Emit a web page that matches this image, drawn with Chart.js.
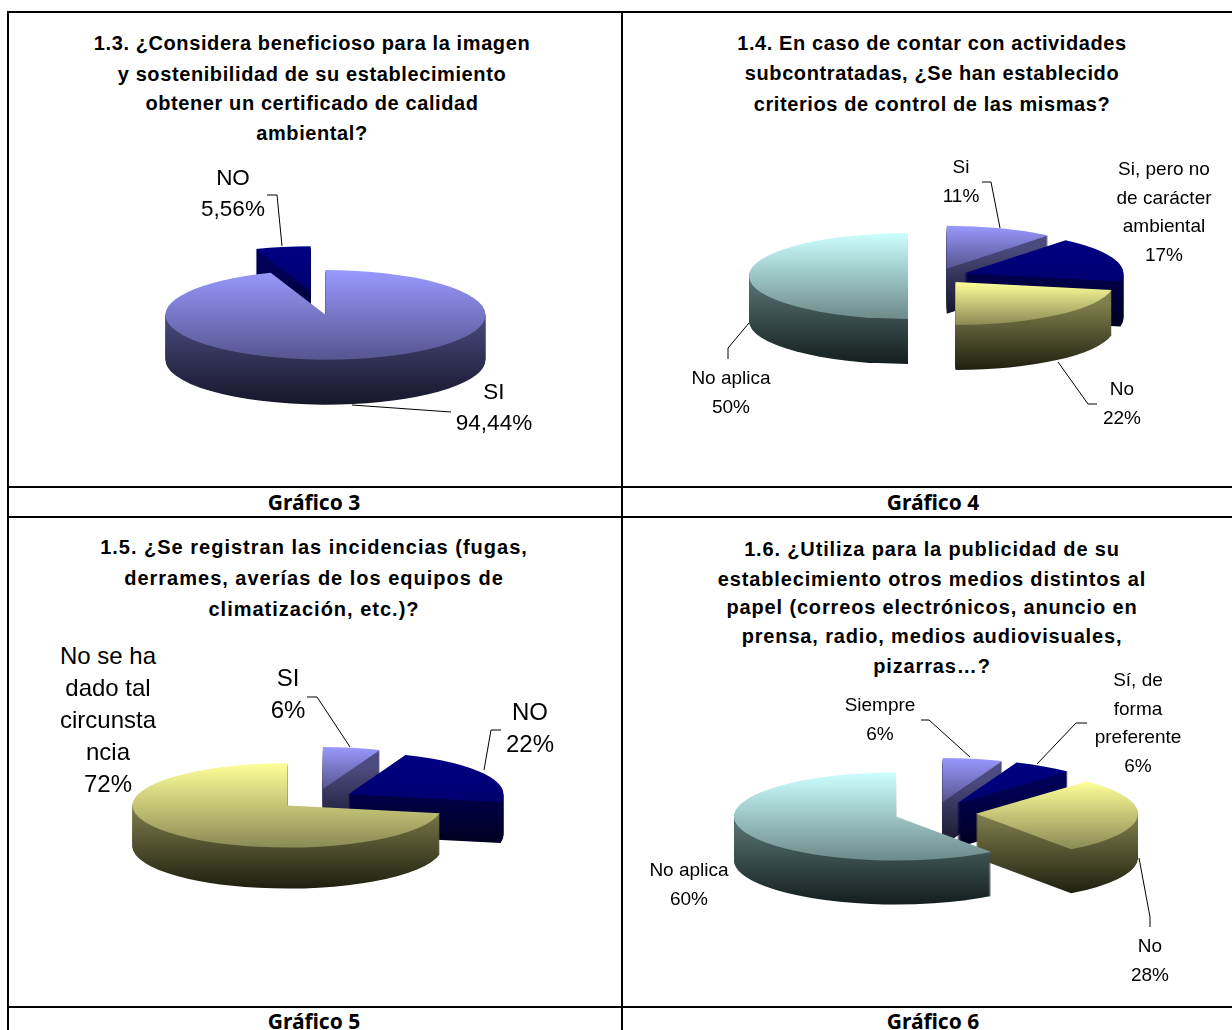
<!DOCTYPE html>
<html lang="es">
<head>
<meta charset="utf-8">
<title>Gráficos 3 a 6</title>
<script src="https://cdn.jsdelivr.net/npm/chart.js@4"></script>
<style>
    html, body { margin: 0; padding: 0; background: #fff; width: 1232px; height: 1030px; overflow: hidden; }
    #page { position: relative; width: 1232px; height: 1030px; font-family: "Liberation Sans", Arial, sans-serif; color: #000; }
    .rule { position: absolute; background: #000; }
    .txt { position: absolute; transform: translate(-50%, -50%); white-space: nowrap; line-height: 1; }
    .title { font-weight: bold; font-size: 20px; }
    .caption { font-family: "Noto Sans", sans-serif; font-weight: bold; font-size: 21px; }
    canvas { position: absolute; }
    svg { position: absolute; left: 0; top: 0; }
</style>
</head>
<body>
<div id="page"></div>
<script>
// values
const values3 = [94.44, 5.56];
const values4 = [11, 17, 22, 50];
const values5 = [6, 22, 72];
const values6 = [6, 6, 28, 60];

const pct3 = ['94,44%', '5,56%'];
const pct4 = ['11%', '17%', '22%', '50%'];
const pct5 = ['6%', '22%', '72%'];
const pct6 = ['6%', '6%', '28%', '60%'];

const names3 = [['SI'], ['NO']];
const names4 = [['Si'], ['Si, pero no', 'de carácter', 'ambiental'], ['No'], ['No aplica']];
const names5 = [['SI'], ['NO'], ['No se ha', 'dado tal', 'circunsta', 'ncia']];
const names6 = [['Siempre'], ['Sí, de', 'forma', 'preferente'], ['No'], ['No aplica']];

const title3 = ['1.3. ¿Considera beneficioso para la imagen', 'y sostenibilidad de su establecimiento', 'obtener un certificado de calidad', 'ambiental?'];
const title4 = ['1.4. En caso de contar con actividades', 'subcontratadas, ¿Se han establecido', 'criterios de control de las mismas?'];
const title5 = ['1.5. ¿Se registran las incidencias (fugas,', 'derrames, averías de los equipos de', 'climatización, etc.)?'];
const title6 = ['1.6. ¿Utiliza para la publicidad de su', 'establecimiento otros medios distintos al', 'papel (correos electrónicos, anuncio en', 'prensa, radio, medios audiovisuales,', 'pizarras…?'];

// face light, face dark, side light, side dark
const palette = [
    ['#9999ff', '#55558f', '#4b4b80', '#16162a'],
    ['#000084', '#000070', '#000058', '#000020'],
    ['#ffff99', '#8a8a55', '#7f7f4c', '#1f1f10'],
    ['#ccffff', '#6d8a8a', '#5c7878', '#141e1e']
];

const charts = [
    {
        values: values3, pct: pct3, names: names3, title: title3, caption: 'Gráfico 3',
        cx: 318, cy: 303, radius: 160, squash: 0.28, depth: 45, explode: 43, fontSize: 22.5, lineGap: 31,
        titleX: 312, titleY: [43, 74, 103, 133], titleSpacing: 0.6, captionX: 314, captionY: 502,
        labelPos: [[494, 392], [233, 178]],
        leaders: ['451,412 352,405', '267,195 277,195 282,246']
    },
    {
        values: values4, pct: pct4, names: names4, title: title4, caption: 'Gráfico 4',
        cx: 937, cy: 276, radius: 159, squash: 0.27, depth: 45, explode: 29, fontSize: 19, lineGap: 28.5,
        titleX: 932, titleY: [43, 73, 104], titleSpacing: 0.6, captionX: 933, captionY: 502,
        labelPos: [[961, 166], [1164, 168], [1122, 388], [731, 377]],
        leaders: ['982,182 991,182 1000,228', '', '1058,362 1088,404 1097,404', '749,323 728,348 728,359']
    },
    {
        values: values5, pct: pct5, names: names5, title: title5, caption: 'Gráfico 5',
        cx: 316, cy: 799, radius: 155, squash: 0.272, depth: 41, explode: 37, fontSize: 24, lineGap: 32,
        titleX: 314, titleY: [547, 578, 609], titleSpacing: 1, captionX: 314, captionY: 1021,
        labelPos: [[288, 678], [530, 712], [108, 656]],
        leaders: ['307,697 317,697 350,747', '501,730 491,730 484,770', '']
    },
    {
        values: values6, pct: pct6, names: names6, title: title6, caption: 'Gráfico 6',
        cx: 935, cy: 813, radius: 162, squash: 0.272, depth: 44, explode: 41, fontSize: 19, lineGap: 28.7,
        titleX: 932, titleY: [549, 579, 607, 636, 666], titleSpacing: 0.85, captionX: 933, captionY: 1021,
        labelPos: [[880, 704], [1138, 679], [1150, 945], [689, 869]],
        leaders: ['921,720 929,720 970,757', '1087,723 1076,723 1037,764', '1139,858 1150,917 1150,927', '']
    }
];

const page = document.getElementById('page');

function addRule(x, y, w, h) {
    const d = document.createElement('div');
    d.className = 'rule';
    d.style.cssText = `left:${x}px;top:${y}px;width:${w}px;height:${h}px`;
    page.appendChild(d);
}

function addText(text, x, y, cls, size, spacing) {
    const d = document.createElement('div');
    d.className = 'txt ' + cls;
    d.textContent = text;
    d.style.left = x + 'px';
    d.style.top = y + 'px';
    if (size) d.style.fontSize = size + 'px';
    if (spacing) d.style.letterSpacing = spacing + 'px';
    page.appendChild(d);
}

// table lines
addRule(7, 11, 1225, 2);
addRule(7, 486, 1225, 2);
addRule(7, 516, 1225, 2);
addRule(7, 1006, 1225, 2);
addRule(7, 11, 2, 1019);
addRule(621, 11, 2, 1019);

// lowest and highest screen y of a slice face, relative to its own centre
function faceExtent(arc, radius, squash) {
    let top = 0;
    let bottom = 0;
    for (let i = 0; i <= 60; i++) {
        const a = arc.startAngle + (arc.endAngle - arc.startAngle) * i / 60;
        const y = Math.sin(a) * radius * squash;
        top = Math.min(top, y);
        bottom = Math.max(bottom, y);
    }
    return [top, bottom];
}

function paintSlice(ctx, arc, colors, opts) {
    const mid = (arc.startAngle + arc.endAngle) / 2;
    const ox = arc.x + Math.cos(mid) * opts.explode;
    const oy = arc.y + Math.sin(mid) * opts.explode * opts.squash;
    const [top, bottom] = faceExtent(arc, arc.outerRadius, opts.squash);

    // draws the library's own arc, flattened and moved down by drop pixels
    const stamp = (drop, y0, y1, c0, c1) => {
        const toLocal = y => arc.y + (y - drop) / opts.squash;
        const grad = ctx.createLinearGradient(0, toLocal(y0), 0, toLocal(y1));
        grad.addColorStop(0, c0);
        grad.addColorStop(1, c1);
        const face = Object.create(arc);
        face.options = { ...arc.options, backgroundColor: grad };
        ctx.save();
        ctx.translate(ox, oy + drop);
        ctx.scale(1, opts.squash);
        ctx.translate(-arc.x, -arc.y);
        face.draw(ctx);
        ctx.restore();
    };

    for (let k = opts.depth; k >= 1; k--) {
        stamp(k, (top + bottom) / 2, bottom + opts.depth, colors[2], colors[3]);
    }
    stamp(0, top, bottom, colors[0], colors[1]);
}

const pie3d = {
    id: 'pie3d',
    beforeDatasetDraw(chart, args, opts) {
        // back slices first, front slices last
        const order = args.meta.data.map((arc, i) => ({ arc, i }));
        order.sort((a, b) => {
            const ca = -Math.cos((a.arc.startAngle + a.arc.endAngle) / 2 + Math.PI / 2);
            const cb = -Math.cos((b.arc.startAngle + b.arc.endAngle) / 2 + Math.PI / 2);
            return ca - cb;
        });
        order.forEach(({ arc, i }) => paintSlice(chart.ctx, arc, palette[i], opts));
        return false;
    }
};

const svgNS = 'http://www.w3.org/2000/svg';
const svg = document.createElementNS(svgNS, 'svg');
svg.setAttribute('width', 1232);
svg.setAttribute('height', 1030);

charts.forEach(c => {
    const canvas = document.createElement('canvas');
    const w = 460;
    const h = 260;
    canvas.width = w;
    canvas.height = h;
    canvas.style.cssText = `left:${c.cx - w / 2}px;top:${c.cy - h / 2}px;width:${w}px;height:${h}px`;
    page.appendChild(canvas);

    new Chart(canvas.getContext('2d'), {
        type: 'pie',
        data: {
            labels: c.names.map(n => n.join(' ')),
            datasets: [{
                data: c.values,
                backgroundColor: c.values.map((v, i) => palette[i][0]),
                borderWidth: 0
            }]
        },
        options: {
            responsive: false,
            animation: false,
            radius: c.radius,
            plugins: {
                legend: { display: false },
                tooltip: { enabled: false },
                pie3d: { explode: c.explode, squash: c.squash, depth: c.depth }
            }
        },
        plugins: [pie3d]
    });

    c.title.forEach((line, i) => addText(line, c.titleX, c.titleY[i], 'title', 0, c.titleSpacing));
    addText(c.caption, c.captionX, c.captionY, 'caption');

    c.names.forEach((lines, i) => {
        const [x, y] = c.labelPos[i];
        const all = lines.concat(c.pct[i]);
        all.forEach((line, j) => addText(line, x, y + j * c.lineGap, 'label', c.fontSize));
    });

    c.leaders.filter(Boolean).forEach(points => {
        const line = document.createElementNS(svgNS, 'polyline');
        line.setAttribute('points', points);
        line.setAttribute('fill', 'none');
        line.setAttribute('stroke', '#000');
        line.setAttribute('stroke-width', '1');
        svg.appendChild(line);
    });
});

page.appendChild(svg);
</script>
</body>
</html>
